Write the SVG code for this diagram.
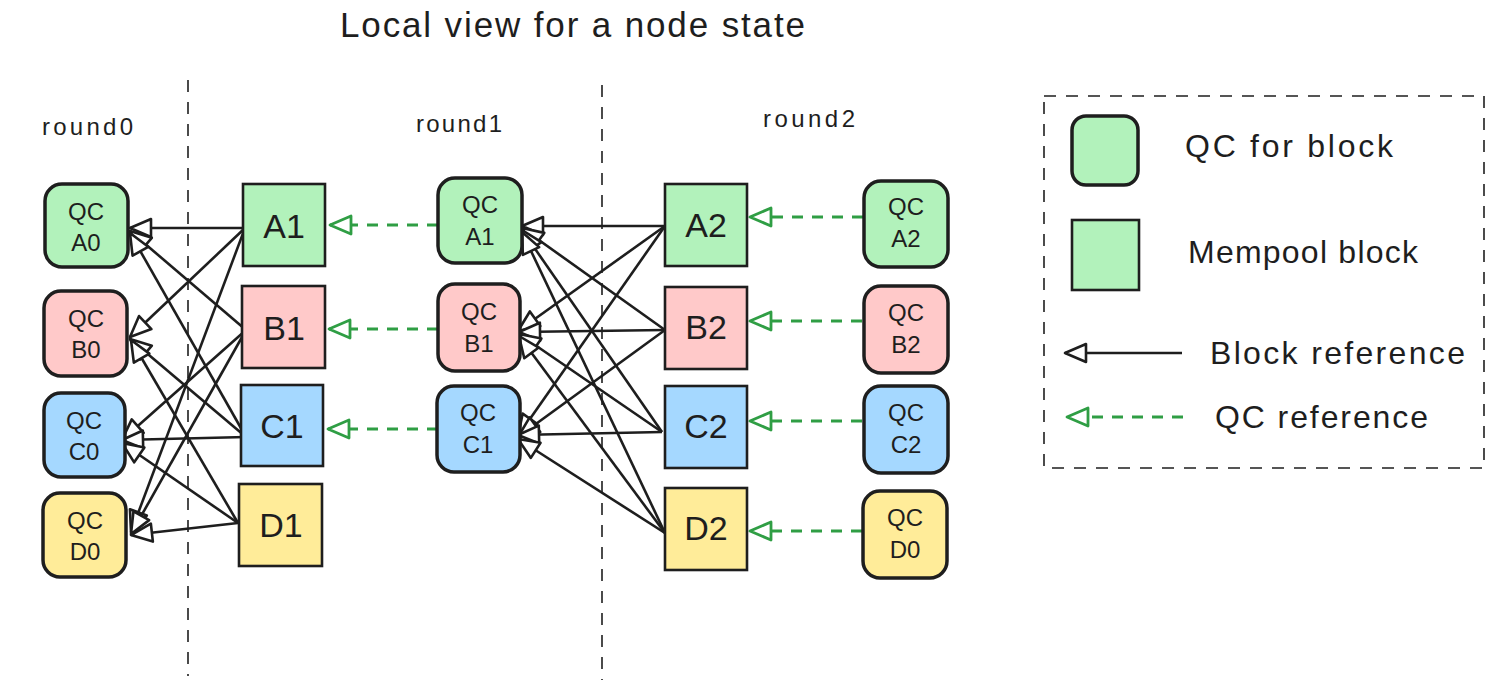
<svg xmlns="http://www.w3.org/2000/svg" width="1500" height="692" viewBox="0 0 1500 692">
<style>
text{font-family:"Liberation Sans",Arial,sans-serif;fill:#1e1e1e}
.qc{stroke:#1e1e1e;stroke-width:3.5}
.mb{stroke:#1e1e1e;stroke-width:2.6}
.g{fill:#b2f2bb}.r{fill:#ffc9c9}.b{fill:#a5d8ff}.y{fill:#ffec99}
.ql{font-size:24px;text-anchor:middle}
.ml{font-size:34px;text-anchor:middle}
.sep{stroke:#1e1e1e;stroke-width:1.6;stroke-dasharray:12 10;fill:none}
.e{stroke:#1e1e1e;stroke-width:2.6;fill:none;marker-end:url(#ah)}
.q{stroke:#2f9e44;stroke-width:2.8;stroke-dasharray:11 9;fill:none;marker-end:url(#gh)}
.lg{font-size:32px}
</style>
<defs>
<marker id="ah" markerUnits="userSpaceOnUse" viewBox="0 0 26 22" markerWidth="26" markerHeight="22" refX="24" refY="11" orient="auto">
<path d="M3,2 L24,11 L3,20 Z" fill="#fff" stroke="#1e1e1e" stroke-width="2.6" stroke-linejoin="round"/>
</marker>
<marker id="gh" markerUnits="userSpaceOnUse" viewBox="0 0 26 22" markerWidth="26" markerHeight="22" refX="24" refY="11" orient="auto">
<path d="M3,2 L24,11 L3,20 Z" fill="#fff" stroke="#2f9e44" stroke-width="2.8" stroke-linejoin="round"/>
</marker>
</defs>
<rect width="1500" height="692" fill="#fff"/>

<text x="340" y="37" font-size="35" textLength="465" lengthAdjust="spacing">Local view for a node state</text>
<text x="42" y="135" font-size="24" textLength="91" lengthAdjust="spacing">round0</text>
<text x="416" y="132" font-size="24" textLength="86" lengthAdjust="spacing">round1</text>
<text x="763" y="127" font-size="24" textLength="92" lengthAdjust="spacing">round2</text>

<path class="sep" d="M188,80 V676"/>
<path class="sep" d="M602,85 V680"/>

<g id="connectors">
<!-- round1 mempool -> round0 QC -->
<path class="e" d="M245,228 L130,228"/>
<path class="e" d="M245,228 L130,337"/>
<path class="e" d="M245,228 L131,532"/>
<path class="e" d="M246,330 L130,231"/>
<path class="e" d="M246,330 L122,440"/>
<path class="e" d="M246,330 L131,534"/>
<path class="e" d="M246,437 L130,233"/>
<path class="e" d="M246,437 L130,339"/>
<path class="e" d="M246,437 L122,440"/>
<path class="e" d="M238,523 L131,340"/>
<path class="e" d="M238,523 L122,443"/>
<path class="e" d="M238,523 L131,535"/>
<!-- round2 mempool -> round1 QC -->
<path class="e" d="M665,226 L522,226"/>
<path class="e" d="M665,226 L518,331"/>
<path class="e" d="M665,226 L518,436"/>
<path class="e" d="M665,330 L522,228"/>
<path class="e" d="M665,330 L519,332"/>
<path class="e" d="M665,330 L518,437"/>
<path class="e" d="M662,432 L522,230"/>
<path class="e" d="M662,432 L519,334"/>
<path class="e" d="M662,432 L518,435"/>
<path class="e" d="M665,533 L522,232"/>
<path class="e" d="M665,533 L519,336"/>
<path class="e" d="M665,533 L518,439"/>
<!-- QC references -->
<path class="q" d="M438,225 L330,225"/>
<path class="q" d="M438,329 L329,329"/>
<path class="q" d="M438,429 L328,429"/>
<path class="q" d="M863,217 L750,217"/>
<path class="q" d="M862,321 L750,321"/>
<path class="q" d="M862,421 L750,421"/>
<path class="q" d="M862,531 L750,531"/>
</g>

<!-- round0 QCs -->
<g id="qcA0"><rect class="qc g" x="45" y="184" width="83" height="83" rx="17"/><text class="ql" x="86" y="220">QC</text><text class="ql" x="86" y="251">A0</text></g>
<g id="qcB0"><rect class="qc r" x="44" y="291" width="83" height="85" rx="17"/><text class="ql" x="86" y="327">QC</text><text class="ql" x="86" y="358">B0</text></g>
<g id="qcC0"><rect class="qc b" x="44" y="393" width="81" height="84" rx="17"/><text class="ql" x="84" y="429">QC</text><text class="ql" x="84" y="460">C0</text></g>
<g id="qcD0"><rect class="qc y" x="43" y="493" width="83" height="84" rx="17"/><text class="ql" x="85" y="529">QC</text><text class="ql" x="85" y="560">D0</text></g>

<!-- round1 mempool blocks -->
<g id="A1"><rect class="mb g" x="243" y="184" width="82" height="82"/><text class="ml" x="284" y="238">A1</text></g>
<g id="B1"><rect class="mb r" x="242" y="286" width="83" height="82"/><text class="ml" x="284" y="340">B1</text></g>
<g id="C1"><rect class="mb b" x="241" y="385" width="82" height="81"/><text class="ml" x="282" y="438">C1</text></g>
<g id="D1"><rect class="mb y" x="239" y="484" width="83" height="82"/><text class="ml" x="281" y="537">D1</text></g>

<!-- round1 QCs -->
<g id="qcA1"><rect class="qc g" x="438" y="178" width="84" height="85" rx="17"/><text class="ql" x="480" y="213">QC</text><text class="ql" x="480" y="245">A1</text></g>
<g id="qcB1"><rect class="qc r" x="438" y="284" width="82" height="87" rx="17"/><text class="ql" x="479" y="320">QC</text><text class="ql" x="479" y="352">B1</text></g>
<g id="qcC1"><rect class="qc b" x="437" y="386" width="83" height="86" rx="17"/><text class="ql" x="478" y="421">QC</text><text class="ql" x="478" y="453">C1</text></g>

<!-- round2 mempool blocks -->
<g id="A2"><rect class="mb g" x="665" y="184" width="82" height="82"/><text class="ml" x="706" y="237">A2</text></g>
<g id="B2"><rect class="mb r" x="665" y="287" width="82" height="82"/><text class="ml" x="706" y="339">B2</text></g>
<g id="C2"><rect class="mb b" x="665" y="386" width="82" height="82"/><text class="ml" x="706" y="438">C2</text></g>
<g id="D2"><rect class="mb y" x="665" y="488" width="82" height="82"/><text class="ml" x="706" y="540">D2</text></g>

<!-- round2 QCs -->
<g id="qcA2"><rect class="qc g" x="864" y="181" width="84" height="86" rx="17"/><text class="ql" x="906" y="215">QC</text><text class="ql" x="906" y="247">A2</text></g>
<g id="qcB2"><rect class="qc r" x="864" y="286" width="84" height="87" rx="17"/><text class="ql" x="906" y="321">QC</text><text class="ql" x="906" y="353">B2</text></g>
<g id="qcC2"><rect class="qc b" x="864" y="386" width="84" height="87" rx="17"/><text class="ql" x="906" y="421">QC</text><text class="ql" x="906" y="453">C2</text></g>
<g id="qcD0b"><rect class="qc y" x="863" y="491" width="84" height="87" rx="17"/><text class="ql" x="905" y="526">QC</text><text class="ql" x="905" y="558">D0</text></g>

<!-- legend -->
<g id="legend">
<rect x="1044" y="96" width="440" height="372" fill="none" class="sep"/>
<rect class="qc g" x="1072" y="116" width="66" height="69" rx="14"/>
<text class="lg" x="1185" y="157" textLength="208" lengthAdjust="spacing">QC for block</text>
<rect class="mb g" x="1072" y="220" width="67" height="70"/>
<text class="lg" x="1188" y="263" textLength="230" lengthAdjust="spacing">Mempool block</text>
<path d="M1182,353 L1065,353" stroke="#1e1e1e" stroke-width="2.6" fill="none" marker-end="url(#ah)"/>
<text class="lg" x="1210" y="364" font-size="34" textLength="255" lengthAdjust="spacing">Block reference</text>
<path d="M1183,417 L1067,417" class="q"/>
<text class="lg" x="1215" y="428" textLength="213" lengthAdjust="spacing">QC reference</text>
</g>
</svg>
